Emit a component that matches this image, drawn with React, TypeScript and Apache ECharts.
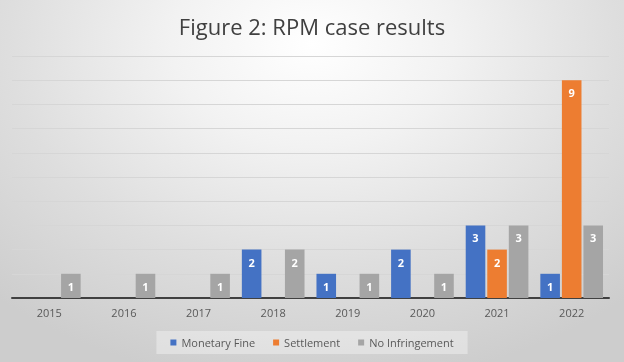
import React, { useEffect, useRef } from "react";
import * as echarts from "echarts";

const years = ["2015", "2016", "2017", "2018", "2019", "2020", "2021", "2022"];
const monetaryFine = [0, 0, 0, 2, 1, 2, 3, 1];
const settlement = [0, 0, 0, 0, 0, 0, 2, 9];
const noInfringement = [1, 1, 1, 2, 1, 1, 3, 3];
const seriesNames = ["Monetary Fine", "Settlement", "No Infringement"];
const colors = ["#4472C4", "#ED7D31", "#A5A5A5"];
const FONT = "'Open Sans', 'Noto Sans', sans-serif";

export default function App() {
  const ref = useRef<HTMLDivElement>(null);
  useEffect(() => {
    if (!ref.current) return;
    const chart = echarts.init(ref.current, undefined, { renderer: "svg" });
    const label = {
      show: true,
      position: "insideTop",
      distance: 7,
      color: "#ffffff",
      fontWeight: "bold",
      fontSize: 11,
      fontFamily: FONT,
      formatter: (p: any) => (p.value ? String(p.value) : ""),
    };
    const datasets = [monetaryFine, settlement, noInfringement];
    chart.setOption({
      animation: false,
      backgroundColor: "transparent",
      title: {
        text: "Figure 2: RPM case results",
        left: "center",
        top: 10,
        textStyle: { color: "#404040", fontSize: 22, fontWeight: "normal", fontFamily: FONT },
      },
      legend: {
        bottom: 8,
        left: "center",
        data: seriesNames,
        icon: "rect",
        itemWidth: 6,
        itemHeight: 6,
        itemGap: 18,
        backgroundColor: "rgba(255,255,255,0.35)",
        padding: [6, 14, 6, 14],
        textStyle: { color: "#595959", fontSize: 11, fontFamily: FONT },
      },
      grid: { left: 12, right: 15, top: 56, bottom: 64 },
      xAxis: {
        type: "category",
        data: years,
        axisLine: { lineStyle: { color: "#404040", width: 2 } },
        axisTick: { show: false },
        axisLabel: { color: "#595959", fontSize: 11, margin: 9, fontFamily: FONT },
      },
      yAxis: {
        type: "value",
        min: 0,
        max: 10,
        interval: 1,
        axisLabel: { show: false },
        axisLine: { show: false },
        axisTick: { show: false },
        splitLine: { lineStyle: { color: "#d6d6d6", width: 1 } },
      },
      series: seriesNames.map((name, i) => ({
        name,
        type: "bar",
        data: datasets[i],
        barGap: "10%",
        barCategoryGap: "16%",
        itemStyle: { color: colors[i] },
        label,
      })),
    });
    return () => chart.dispose();
  }, []);
  return (
    <div
      style={{
        position: "fixed",
        left: 0,
        top: 0,
        width: 624,
        height: 362,
        background:
          "radial-gradient(ellipse 75% 95% at 50% 12%, #ffffff 0%, #f2f2f2 30%, #dedede 65%, #cdcdcd 100%)",
      }}
    >
      <div ref={ref} style={{ width: 624, height: 362 }} />
    </div>
  );
}
